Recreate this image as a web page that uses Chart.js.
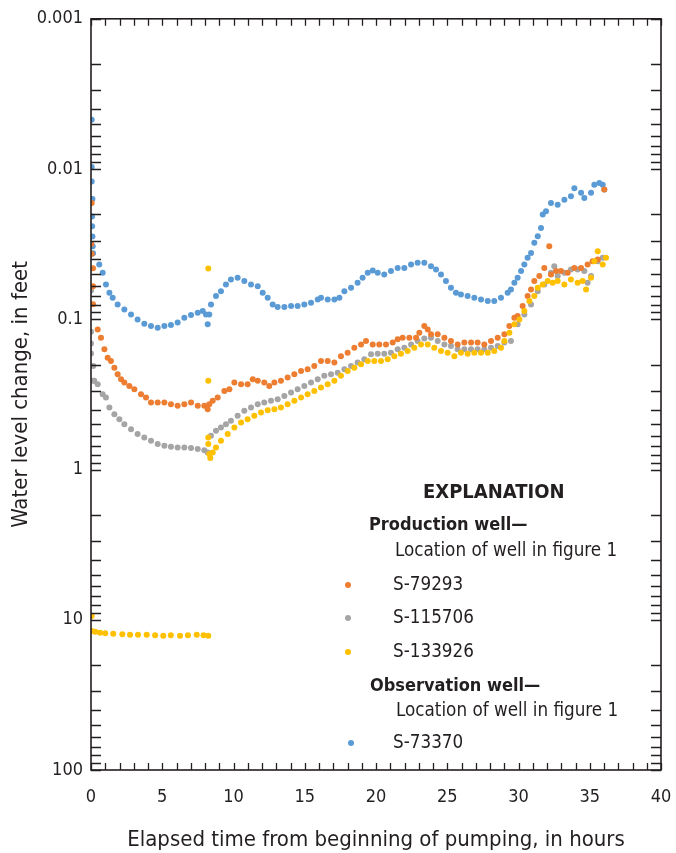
<!DOCTYPE html>
<html>
<head>
<meta charset="utf-8">
<script src="https://cdn.jsdelivr.net/npm/chart.js@4.4.0/dist/chart.umd.min.js"></script>
<style>
  html, body { margin: 0; padding: 0; background: #fff; }
  #wrap { position: relative; width: 676px; height: 853px; }
  canvas { position: absolute; left: 0; top: 0; }
  .lg { position: absolute; font-family: 'Liberation Sans Narrow', 'DejaVu Sans Condensed', 'Liberation Sans', sans-serif; color: #231f20; white-space: nowrap; line-height: 1; }
  .b { font-weight: bold; }
  .dot { position: absolute; width: 6px; height: 6px; border-radius: 50%; }
</style>
</head>
<body>
<div id="wrap">
  <canvas id="c" width="676" height="853"></canvas>
  <div class="lg b" style="left:423px; top:481px; font-size:20px;">EXPLANATION</div>
  <div class="lg b" style="left:369px; top:515px; font-size:18px;">Production well—</div>
  <div class="lg" style="left:395px; top:541px; font-size:18.7px;">Location of well in figure 1</div>
  <div class="dot" style="left:345px; top:582px; background:#ED7D31;"></div>
  <div class="lg" style="left:393px; top:575px; font-size:18.7px;">S-79293</div>
  <div class="dot" style="left:345px; top:615px; background:#A5A5A5;"></div>
  <div class="lg" style="left:393px; top:608px; font-size:18.7px;">S-115706</div>
  <div class="dot" style="left:345px; top:649px; background:#FFC000;"></div>
  <div class="lg" style="left:393px; top:642px; font-size:18.7px;">S-133926</div>
  <div class="lg b" style="left:370px; top:676px; font-size:18px;">Observation well—</div>
  <div class="lg" style="left:396px; top:701px; font-size:18.7px;">Location of well in figure 1</div>
  <div class="dot" style="left:348px; top:740px; background:#5B9BD5;"></div>
  <div class="lg" style="left:393px; top:733px; font-size:18.7px;">S-73370</div>
</div>
<script>
// ---- Data: [elapsed hours, water level change in feet] ----
const seriesNames = ['S-79293', 'S-115706', 'S-133926', 'S-73370'];
const yTickValues = [0.001, 0.01, 0.1, 1, 10, 100];
const xTickValues = [0, 5, 10, 15, 20, 25, 30, 35, 40];

const s79293 = [[0.05,0.0168],[0.02,0.0316],[0.05,0.0367],[0.14,0.0457],[0.14,0.0603],[0.14,0.0793],[0.47,0.1168],[0.70,0.1326],[0.94,0.1585],[1.17,0.180],[1.40,0.1895],[1.64,0.210],[1.87,0.232],[2.11,0.251],[2.34,0.264],[2.69,0.278],[3.04,0.292],[3.51,0.315],[3.86,0.332],[4.21,0.358],[4.68,0.358],[5.15,0.358],[5.61,0.368],[6.08,0.377],[6.55,0.368],[7.02,0.358],[7.49,0.377],[7.95,0.377],[8.19,0.397],[8.30,0.368],[8.54,0.349],[8.89,0.332],[9.36,0.300],[9.71,0.292],[10.06,0.264],[10.53,0.271],[10.99,0.271],[11.35,0.251],[11.70,0.257],[12.16,0.264],[12.51,0.278],[12.87,0.264],[13.33,0.257],[13.80,0.244],[14.27,0.232],[14.74,0.221],[15.20,0.215],[15.67,0.205],[16.14,0.1895],[16.61,0.1895],[17.08,0.194],[17.54,0.176],[18.01,0.167],[18.48,0.1545],[18.95,0.147],[19.30,0.1396],[19.77,0.147],[20.23,0.147],[20.70,0.147],[21.17,0.143],[21.52,0.136],[21.87,0.1326],[22.34,0.1326],[22.81,0.1326],[23.04,0.1229],[23.39,0.111],[23.63,0.1168],[23.86,0.126],[24.33,0.126],[24.80,0.1326],[25.26,0.1396],[25.73,0.147],[26.20,0.143],[26.67,0.143],[27.13,0.143],[27.60,0.147],[28.07,0.1396],[28.54,0.1326],[29.01,0.126],[29.36,0.111],[29.71,0.0977],[29.94,0.0952],[30.29,0.0817],[30.64,0.0701],[30.88,0.0633],[31.11,0.0557],[31.46,0.0516],[31.81,0.0455],[32.16,0.0326],[32.28,0.0503],[32.63,0.0478],[32.98,0.0478],[33.45,0.0491],[33.92,0.0455],[34.39,0.0455],[34.85,0.0432],[35.20,0.0411],[35.56,0.0400],[36.02,0.0137]];

const s115706 = [[0.0,0.0643],[0.0,0.121],[0.0,0.145],[0.0,0.169],[0.16,0.205],[0.16,0.257],[0.23,0.257],[0.47,0.271],[0.82,0.315],[1.05,0.332],[1.29,0.387],[1.64,0.428],[1.99,0.462],[2.34,0.499],[2.81,0.539],[3.27,0.581],[3.74,0.612],[4.21,0.644],[4.68,0.677],[5.15,0.695],[5.61,0.706],[6.08,0.713],[6.55,0.713],[7.02,0.720],[7.49,0.731],[7.95,0.743],[8.19,0.770],[8.42,0.597],[8.77,0.553],[9.12,0.525],[9.47,0.499],[9.82,0.474],[10.29,0.439],[10.76,0.407],[11.23,0.387],[11.70,0.368],[12.16,0.358],[12.63,0.349],[13.10,0.340],[13.57,0.324],[14.04,0.3075],[14.50,0.292],[14.97,0.278],[15.44,0.264],[15.91,0.251],[16.37,0.238],[16.84,0.232],[17.31,0.2265],[17.78,0.215],[18.25,0.205],[18.71,0.194],[19.18,0.1847],[19.65,0.171],[20.12,0.1694],[20.58,0.1694],[21.05,0.167],[21.52,0.1585],[21.99,0.1545],[22.46,0.147],[22.92,0.1396],[23.39,0.134],[23.86,0.1326],[24.33,0.1396],[24.80,0.147],[25.26,0.1506],[25.73,0.1585],[26.20,0.1585],[26.67,0.1585],[27.13,0.1585],[27.60,0.1585],[28.07,0.1545],[28.54,0.1506],[29.01,0.143],[29.47,0.1396],[29.94,0.108],[30.41,0.0928],[30.88,0.0796],[31.35,0.0650],[31.81,0.0587],[32.28,0.0491],[32.51,0.0443],[32.75,0.0516],[33.22,0.0491],[33.68,0.0466],[34.15,0.0466],[34.62,0.0478],[34.85,0.0572],[35.09,0.0516],[35.56,0.0411],[35.91,0.0390]];

const s133926 = [[0.05,9.44],[0.05,11.9],[0.30,12.0],[0.63,12.2],[1.00,12.3],[1.56,12.4],[2.20,12.5],[2.74,12.6],[3.30,12.6],[3.91,12.6],[4.50,12.7],[5.07,12.8],[5.60,12.7],[6.25,12.8],[6.80,12.7],[7.42,12.6],[7.90,12.7],[8.23,12.8],[8.23,0.0459],[8.23,0.257],[8.23,0.612],[8.23,0.677],[8.30,0.789],[8.37,0.839],[8.54,0.770],[8.77,0.713],[9.12,0.644],[9.59,0.581],[10.06,0.525],[10.53,0.487],[10.99,0.462],[11.46,0.439],[11.93,0.4175],[12.40,0.403],[12.87,0.397],[13.33,0.387],[13.80,0.368],[14.27,0.349],[14.74,0.332],[15.20,0.315],[15.67,0.300],[16.14,0.285],[16.61,0.271],[17.08,0.257],[17.54,0.238],[18.01,0.221],[18.48,0.210],[18.95,0.1994],[19.42,0.1895],[19.88,0.1895],[20.35,0.1895],[20.82,0.1847],[21.29,0.176],[21.75,0.1694],[22.22,0.1626],[22.69,0.1545],[23.16,0.147],[23.63,0.147],[24.09,0.1545],[24.56,0.1626],[25.03,0.167],[25.50,0.176],[25.96,0.167],[26.43,0.1694],[26.90,0.167],[27.37,0.167],[27.84,0.167],[28.30,0.1626],[28.77,0.1545],[29.01,0.1396],[29.36,0.1229],[29.71,0.108],[30.06,0.1002],[30.41,0.0882],[30.76,0.0757],[31.11,0.0701],[31.35,0.0617],[31.70,0.0587],[32.05,0.0557],[32.40,0.0572],[32.75,0.0557],[33.22,0.0587],[33.68,0.0544],[34.15,0.0572],[34.50,0.0557],[34.74,0.0633],[35.09,0.0530],[35.32,0.0411],[35.56,0.0352],[35.91,0.0432],[36.14,0.0390]];

const s73370 = [[0.05,0.0047],[0.05,0.0097],[0.05,0.0121],[0.10,0.0158],[0.07,0.0207],[0.08,0.0240],[0.10,0.0281],[0.12,0.0327],[0.14,0.0363],[0.58,0.0432],[0.82,0.0491],[1.05,0.0587],[1.29,0.0666],[1.52,0.0719],[1.87,0.0796],[2.34,0.0860],[2.81,0.0928],[3.27,0.1002],[3.74,0.107],[4.21,0.111],[4.68,0.1138],[5.15,0.111],[5.61,0.109],[6.08,0.105],[6.55,0.0977],[7.02,0.0938],[7.49,0.0905],[7.84,0.0882],[8.07,0.0928],[8.19,0.108],[8.30,0.0928],[8.42,0.0796],[8.77,0.0701],[9.12,0.0650],[9.47,0.0587],[9.82,0.0544],[10.29,0.0530],[10.76,0.0557],[11.23,0.0587],[11.70,0.0602],[12.05,0.0666],[12.40,0.0719],[12.75,0.0796],[13.10,0.0830],[13.57,0.0830],[14.04,0.0817],[14.50,0.0817],[14.97,0.0796],[15.44,0.0776],[15.91,0.0738],[16.14,0.0719],[16.61,0.0738],[17.08,0.0738],[17.43,0.0719],[17.78,0.0650],[18.25,0.0617],[18.71,0.0572],[19.06,0.0530],[19.42,0.0491],[19.77,0.0474],[20.12,0.0491],[20.58,0.0503],[21.05,0.0478],[21.52,0.0455],[21.99,0.0455],[22.46,0.0432],[22.92,0.0421],[23.39,0.0421],[23.86,0.0443],[24.21,0.0466],[24.56,0.0503],[24.91,0.0557],[25.26,0.0617],[25.61,0.0666],[25.96,0.0684],[26.43,0.0701],[26.90,0.0719],[27.37,0.0738],[27.84,0.0757],[28.30,0.0757],[28.77,0.0719],[29.24,0.0666],[29.47,0.0633],[29.71,0.0572],[29.94,0.0530],[30.18,0.0478],[30.41,0.0432],[30.64,0.0390],[30.88,0.0362],[31.11,0.0310],[31.35,0.0280],[31.58,0.0247],[31.70,0.0201],[31.93,0.0191],[32.28,0.0168],[32.75,0.0173],[33.22,0.0160],[33.68,0.0152],[33.92,0.0134],[34.39,0.0144],[34.62,0.0156],[35.09,0.0144],[35.32,0.0127],[35.67,0.0124],[35.91,0.0127],[36.02,0.0137]];

function pts(arr) { return arr.map(p => ({ x: p[0], y: p[1] })); }

const FONT = "'Liberation Sans Narrow', 'DejaVu Sans Condensed', 'Liberation Sans', sans-serif";
const AREA = { left: 91, right: 661, top: 17, bottom: 770 };

const tickPlugin = {
  id: 'insideTicks',
  afterDraw(chart) {
    const ctx = chart.ctx;
    const xs = chart.scales.x, ys = chart.scales.y;
    const a = chart.chartArea;
    ctx.save();
    ctx.strokeStyle = '#231f20';
    ctx.lineWidth = 1.3;
    ctx.beginPath();
    for (let d = 0.001; d < 150; d *= 10) {
      for (let m = 1; m <= 9; m++) {
        const v = d * m;
        if (v > 100.0001) break;
        const py = Math.round(ys.getPixelForValue(v)) + 0.5;
        if (py < a.top - 1 || py > a.bottom + 1) continue;
        ctx.moveTo(a.left, py); ctx.lineTo(a.left + 10, py);
        ctx.moveTo(a.right, py); ctx.lineTo(a.right - 10, py);
      }
    }
    for (let h = 0; h <= 40; h++) {
      const px = Math.round(xs.getPixelForValue(h)) + 0.5;
      ctx.moveTo(px, a.bottom); ctx.lineTo(px, a.bottom - 7);
      ctx.moveTo(px, a.top); ctx.lineTo(px, a.top + 7);
    }
    ctx.stroke();
    ctx.lineWidth = 1.6;
    ctx.strokeRect(a.left, a.top, a.right - a.left, a.bottom - a.top);
    ctx.restore();
  }
};

const ds = (label, data, color) => ({
  label, data,
  showLine: false,
  pointRadius: 3,
  pointHoverRadius: 3,
  pointBorderWidth: 0,
  pointBackgroundColor: color,
  pointBorderColor: color,
  backgroundColor: color
});

new Chart(document.getElementById('c'), {
  type: 'scatter',
  data: {
    datasets: [
      ds(seriesNames[2], pts(s133926), '#FFC000'),
      ds(seriesNames[0], pts(s79293), '#ED7D31'),
      ds(seriesNames[1], pts(s115706), '#A5A5A5'),
      ds(seriesNames[3], pts(s73370), '#5B9BD5')
    ]
  },
  options: {
    responsive: false,
    animation: false,
    events: [],
    layout: { padding: { left: 0, right: 676 - AREA.right, top: AREA.top, bottom: 0 } },
    plugins: { legend: { display: false }, tooltip: { enabled: false } },
    scales: {
      x: {
        type: 'linear', min: 0, max: 40,
        afterBuildTicks(s) { s.ticks = xTickValues.map(v => ({ value: v })); },
        afterFit(s) { s.height = 853 - AREA.bottom; },
        grid: { display: false, drawTicks: true, tickLength: 13, tickColor: 'rgba(0,0,0,0)' },
        border: { display: false },
        ticks: { padding: 4, color: '#231f20', font: { family: FONT, size: 18 }, maxRotation: 0, autoSkip: false },
        title: { display: true, text: 'Elapsed time from beginning of pumping, in hours', color: '#231f20', font: { family: FONT, size: 22 }, padding: { top: 6, bottom: 0 } }
      },
      y: {
        type: 'logarithmic', min: 0.001, max: 100, reverse: true,
        afterBuildTicks(s) { s.ticks = yTickValues.map(v => ({ value: v })); },
        afterFit(s) { s.width = AREA.left; },
        grid: { display: false, drawTicks: false },
        border: { display: false },
        ticks: { padding: 8, color: '#231f20', font: { family: FONT, size: 18 }, autoSkip: false, callback: v => String(v) },
        title: { display: true, text: 'Water level change, in feet', color: '#231f20', font: { family: FONT, size: 22 }, padding: { top: 8, bottom: 0 } }
      }
    }
  },
  plugins: [tickPlugin]
});
</script>
</body>
</html>
